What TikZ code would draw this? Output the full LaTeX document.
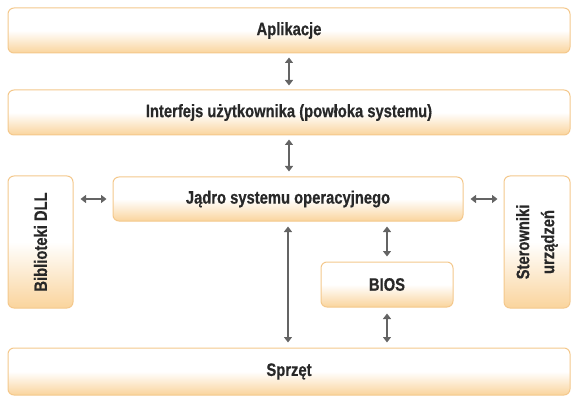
\documentclass[tikz,border=0pt]{standalone}
\usepackage{fontspec}
\setmainfont{Liberation Sans}[FakeStretch=0.82, BoldFont=Liberation Sans Bold, BoldFeatures={FakeStretch=0.82, FakeBold=0.6}]
\usetikzlibrary{arrows.meta}
\definecolor{peach}{RGB}{250,212,156}
\definecolor{boxline}{RGB}{244,200,140}
\definecolor{txt}{RGB}{40,40,40}
\definecolor{arr}{RGB}{100,100,100}
\tikzset{
  lbl/.style={font=\bfseries\fontsize{18}{25}\selectfont, text=txt},
  blk/.style={draw=boxline, line width=1pt, rounded corners=6pt, top color=white, bottom color=peach, middle color=white, shading angle=0, inner sep=0pt, lbl, align=center},
  conn/.style={draw=arr, line width=1.2pt, {Triangle[length=5.5pt,width=8pt]}-{Triangle[length=5.5pt,width=8pt]}}
}
\begin{document}
\begin{tikzpicture}[x=1pt,y=-1pt]
\useasboundingbox (0,0) rectangle (577,403);
\node[blk, minimum width=562pt, minimum height=45pt] (app) at (289,30.5) {Aplikacje};
\node[blk, minimum width=562pt, minimum height=45pt] (ui) at (289,112.5) {Interfejs użytkownika (powłoka systemu)};
\node[blk, minimum width=350pt, minimum height=44pt] (kern) at (288,199) {Jądro systemu operacyjnego};
\node[blk, minimum width=65pt, minimum height=132pt] (dll) at (40.5,242) {};
\node[lbl, rotate=90] (dlltext) at (dll.center) {Biblioteki DLL};
\node[blk, minimum width=66pt, minimum height=132pt] (drv) at (537,242) {};
\node[lbl, rotate=90, align=center] (drvtext) at (drv.center) {Sterowniki\\urządzeń};
\node[blk, minimum width=132pt, minimum height=45pt] (bios) at (387,284.5) {BIOS};
\node[blk, minimum width=562pt, minimum height=47pt] (hw) at (289,371.5) {Sprzęt};
\draw[conn] ([yshift=-4pt]app.south) -- ([yshift=4pt]ui.north);
\draw[conn] ([yshift=-4pt]ui.south) -- ([yshift=5pt]ui.south |- kern.north);
\draw[conn] ([xshift=7pt]dll.east |- kern.west) -- ([xshift=-6pt]kern.west);
\draw[conn] ([xshift=7pt]kern.east) -- ([xshift=-6pt]drv.west |- kern.east);
\draw[conn] ([yshift=-5pt]kern.south) -- ([yshift=5pt]kern.south |- hw.north);
\draw[conn] ([yshift=-5pt]bios.north |- kern.south) -- ([yshift=5pt]bios.north);
\draw[conn] ([yshift=-6pt]bios.south) -- ([yshift=5pt]bios.south |- hw.north);
\end{tikzpicture}
\end{document}
